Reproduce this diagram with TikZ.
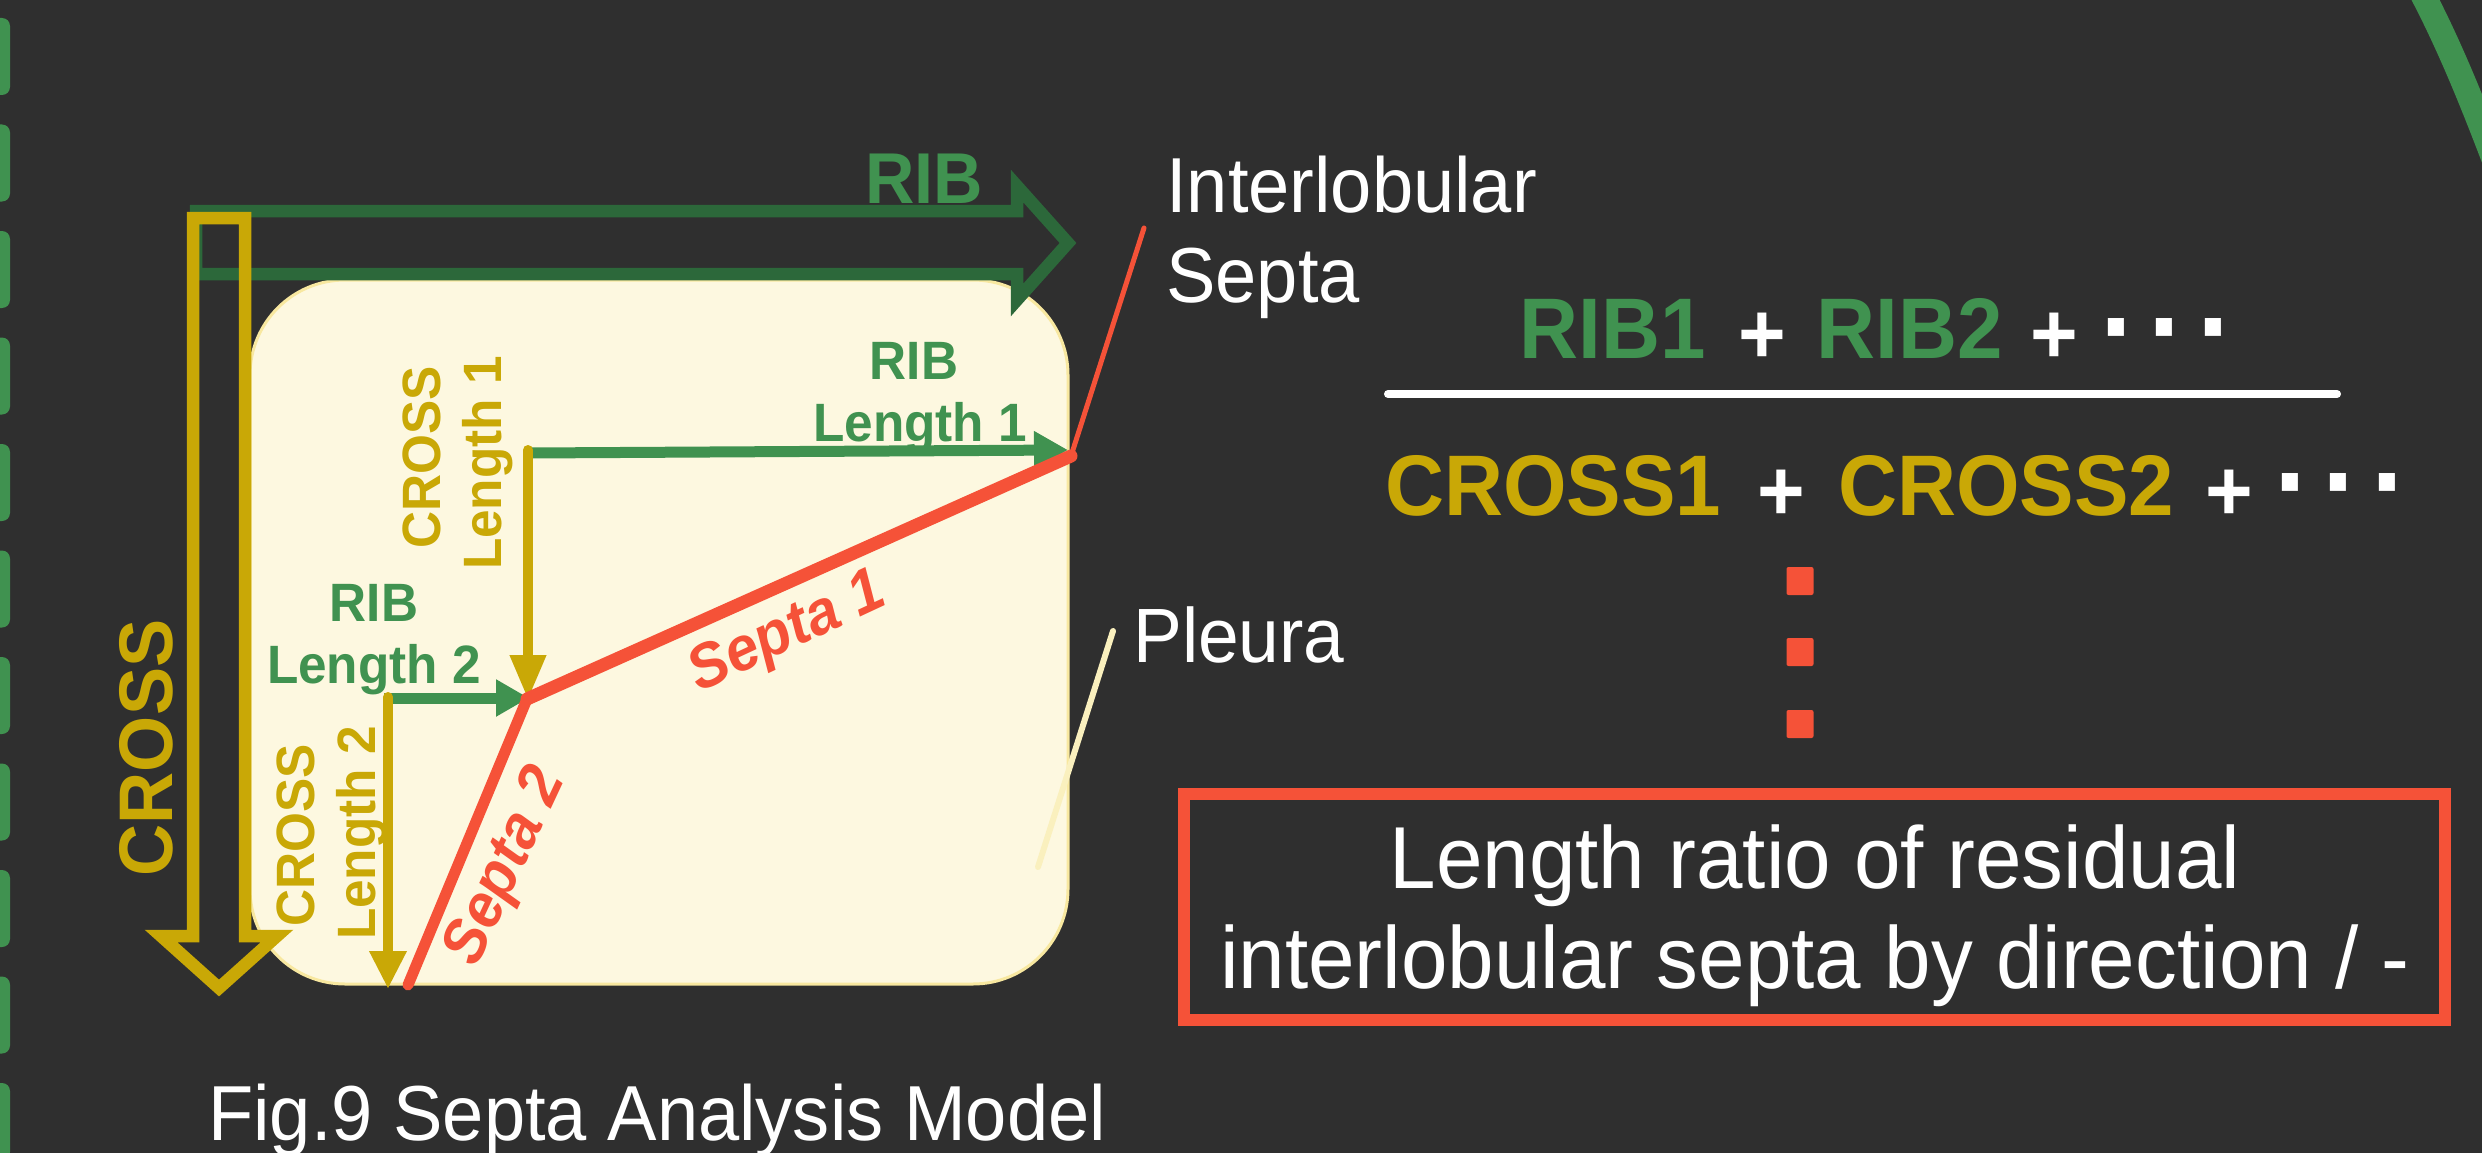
\documentclass[tikz,border=0pt]{standalone}
\usepackage{fontspec}
\setmainfont{Liberation Sans}[FakeStretch=0.95]
\usetikzlibrary{arrows.meta}
\definecolor{bgc}{RGB}{47,47,47}
\definecolor{tabg}{RGB}{64,146,80}
\definecolor{txtg}{RGB}{64,146,80}
\definecolor{arrg}{RGB}{44,104,58}
\definecolor{ylw}{RGB}{201,168,6}
\definecolor{cream}{RGB}{253,248,224}
\definecolor{creamedge}{RGB}{248,232,160}
\definecolor{redc}{RGB}{245,82,56}
\definecolor{paleline}{RGB}{250,240,190}
\tikzset{
  bsz/.style={inner sep=0pt, font=\fontsize{#1pt}{#1pt}\selectfont\bfseries},
  rsz/.style={inner sep=0pt, font=\fontsize{#1pt}{#1pt}\selectfont},
  isz/.style={inner sep=0pt, font=\fontsize{#1pt}{#1pt}\selectfont\bfseries\itshape},
  gline/.style={draw=txtg, line width=11pt, -{Triangle[length=34pt,width=36pt]}},
  yline/.style={draw=ylw, line width=10pt, line cap=round, -{Triangle[length=38pt,width=35pt]}},
  septa/.style={draw=redc, line cap=round},
}
\begin{document}
\begin{tikzpicture}[x=1pt,y=-1pt]
\fill[bgc] (0,0) rectangle (2482,1153);
\path[use as bounding box] (0,0) rectangle (2482,1153);
% left tabs
\foreach \i in {0,...,10}
  \fill[tabg, rounded corners=8pt] (-20,{18+106.5*\i}) rectangle (10,{95+106.5*\i});
% top-right arc
\draw[tabg, line width=25pt] (2415,-20) .. controls (2445,35) and (2470,95) .. (2500,175);
% lobule
\node[draw=creamedge, fill=cream, line width=3pt, rounded corners=95pt,
      minimum width=818pt, minimum height=704pt, inner sep=0pt] (lobule) at (659,632) {};
% big RIB arrow (outline)
\draw[arrg, line width=12.5pt, line join=miter]
  (196,211) -- (1017,211) -- (1017,186) -- (1068,243) -- (1017,300) -- (1017,274) -- (196,274) -- cycle;
% big CROSS arrow (outline)
\draw[ylw, line width=12.5pt, line join=miter]
  (193,218) -- (245,218) -- (245,936) -- (277,936) -- (219,988) -- (161,936) -- (193,936) -- cycle;
\node[bsz=72, txtg, anchor=base] (ribbig) at (924,203) {RIB};
\node[bsz=76, ylw, anchor=base, rotate=90] (crossbig) at (172,748) {CROSS};
% septa geometry
\coordinate (j1) at (1071,456);
\coordinate (j2) at (527,699);
\coordinate (e2) at (408,985);
\coordinate (iltop) at (1144,228);
\coordinate (plA) at (1113,631);
\coordinate (plB) at (1038,867);
\coordinate (r1s) at (530,453);
\coordinate (r1e) at (1068,450);
\coordinate (c1s) at (528,450);
\coordinate (c1e) at (528,700);
\coordinate (r2s) at (384,698);
\coordinate (r2e) at (529,698);
\coordinate (c2s) at (388,697);
\coordinate (c2e) at (388,989);
% guide arrows
\draw[gline] (r1s) -- (r1e);
\draw[yline, -{Triangle[length=45pt,width=34pt]}] (c1s) -- (c1e);
\draw[gline, -{Triangle[length=33pt,width=35pt]}] (r2s) -- (r2e);
\draw[yline] (c2s) -- (c2e);
% septa
\draw[septa, line width=5pt] (j1) -- (iltop);
\draw[septa, line width=13pt] (j1) -- (j2);
\draw[septa, line width=11pt] (j2) -- (e2);
\draw[paleline, line width=6pt, line cap=round] (plA) -- (plB);
% small labels
\node[bsz=54, txtg, anchor=base] (r1a) at (914,379) {RIB};
\node[bsz=54, txtg, anchor=base] (r1b) at (920,441) {Length 1};
\node[bsz=54, ylw, anchor=base, rotate=90] (x1a) at (440,457) {CROSS};
\node[bsz=54, ylw, anchor=base, rotate=90] (x1b) at (501,463) {Length 1};
\node[bsz=54, txtg, anchor=base] (r2a) at (374,621) {RIB};
\node[bsz=54, txtg, anchor=base] (r2b) at (374,683) {Length 2};
\node[bsz=54, ylw, anchor=base, rotate=90] (x2a) at (314,835) {CROSS};
\node[bsz=54, ylw, anchor=base, rotate=90] (x2b) at (375,833) {Length 2};
\node[isz=62, redc, rotate=25] (s1) at (788,634) {Septa 1};
\node[isz=62, redc, rotate=65] (s2) at (507,867) {Septa 2};
% white labels
\node[rsz=78, white, anchor=base west] (il1) at (1166,212) {Interlobular};
\node[rsz=78, white, anchor=base west] (il2) at (1166,302) {Septa};
\node[rsz=77, white, anchor=base west] (pl) at (1133,662) {Pleura};
% fraction
\node[bsz=86, txtg, anchor=base] (n1) at (1613,358) {RIB1};
\node[bsz=86, white] (np1) at (1762,338) {+};
\node[bsz=86, txtg, anchor=base] (n2) at (1910,358) {RIB2};
\node[bsz=86, white] (np2) at (2054,338) {+};
\node[bsz=120, white, anchor=base] (nd) at (2168,367) {·\hspace{11pt}·\hspace{11pt}·};
\coordinate (fl) at (1388,394);
\coordinate (fr) at (2337,394);
\draw[white, line width=8pt, line cap=round] (fl) -- (fr);
\node[bsz=86, ylw, anchor=base] (d1) at (1553,515) {CROSS1};
\node[bsz=86, white] (dp1) at (1781,495) {+};
\node[bsz=86, ylw, anchor=base] (d2) at (2006,515) {CROSS2};
\node[bsz=86, white] (dp2) at (2229,495) {+};
\node[bsz=120, white, anchor=base] (dd) at (2342,522) {·\hspace{11pt}·\hspace{11pt}·};
% red dots
\foreach \yy/\nm in {581/dotA,652/dotB,724/dotC}
  \node[fill=redc, minimum width=27pt, minimum height=28pt, inner sep=0pt, rounded corners=2pt] (\nm) at (1800,\yy) {};
% result box
\node[draw=redc, line width=12pt, minimum width=1261pt, minimum height=226pt, inner sep=0pt] (res) at (1814.5,907) {};
\node[rsz=88, white, anchor=base] (res1) at (1815,888) {Length ratio of residual};
\node[rsz=88, white, anchor=base] (res2) at (1815,988) {interlobular septa by direction / -};
% caption
\node[rsz=78, white, anchor=base west] (cap) at (208,1140) {Fig.9 Septa Analysis Model};
\end{tikzpicture}
\end{document}
